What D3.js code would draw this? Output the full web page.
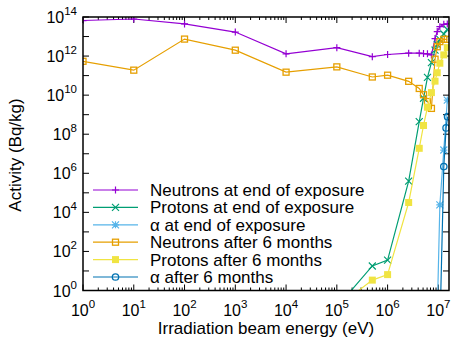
<!DOCTYPE html>
<html><head><meta charset="utf-8">
<script src="https://cdn.jsdelivr.net/npm/d3@7"></script>
<style>html,body{margin:0;padding:0;background:#fff;}svg{display:block;font-family:"Liberation Sans",Arial,sans-serif;}</style>
</head><body><svg id="c" width="452" height="344"></svg>
<script>
// ---- data (energy in eV, activity in Bq/kg) ----
const neutronsEndE = [1,10,100,1e3,1e4,1e5,5e5,1e6,2.6e6,4.2e6,5.1e6,6.1e6,7.3e6,8.6e6,9.5e6,1.07e7,1.28e7,1.5e7];
const neutronsEndV = [6.6e13,7.9e13,4.4e13,1.7e13,1.3e12,2.7e12,9.3e11,1.2e12,1.4e12,1.4e12,1.35e12,1.3e12,1.15e12,7.9e12,1.8e13,3.2e13,4.2e13,4.4e13];
const protonsEndE = [1e5,5e5,1e6,2.6e6,4.2e6,5.1e6,6.1e6,7.3e6,8.6e6,9.5e6,1.07e7,1.28e7,1.5e7];
const protonsEndV = [0.14,18,36,4.0e5,4.4e8,6.9e9,8.1e10,4.6e11,2.0e12,4.0e12,7.2e12,1.35e13,2.3e13];
const alphaEndE = [9.5e6,1.07e7,1.28e7,1.5e7];
const alphaEndV = [0.05,2.4e4,1.55e7,5.6e9];
const neutrons6mE = [1,10,100,1e3,1e4,1e5,5e5,1e6,2.6e6,4.2e6,5.1e6,6.1e6,7.3e6,8.6e6,9.5e6,1.07e7,1.28e7,1.5e7];
const neutrons6mV = [5.4e11,1.9e11,7.4e12,2.0e12,1.5e11,2.8e11,8.5e10,1.05e11,5.1e10,2.2e10,1.05e10,4.7e9,2.1e9,6.9e11,3.0e12,5.5e12,7.2e12,7.2e12];
const protons6mE = [1e5,5e5,1e6,2.6e6,4.2e6,5.1e6,6.1e6,7.3e6,8.6e6,9.5e6,1.07e7,1.28e7,1.5e7];
const protons6mV = [0.14,3.4,6.5,3.2e4,1.9e7,2.8e8,2.4e9,1.35e10,5.2e10,1.4e11,4.3e11,1.15e12,2.7e12];
const alpha6mE = [1.05e7,1.28e7,1.42e7,1.52e7];
const alpha6mV = [1e-3,2.2e6,2.1e8,7.9e8];

const seriesNames = ["Neutrons at end of exposure","Protons at end of exposure","\u03b1 at end of exposure","Neutrons after 6 months","Protons after 6 months","\u03b1 after 6 months"];
const seriesColors = ["#9400d3","#009e73","#56b4e9","#e69f00","#f0e442","#0072b2"];
const seriesMarkers = ["plus","cross","star","square","filledSquare","circle"];
const seriesE = [neutronsEndE,protonsEndE,alphaEndE,neutrons6mE,protons6mE,alpha6mE];
const seriesV = [neutronsEndV,protonsEndV,alphaEndV,neutrons6mV,protons6mV,alpha6mV];

const xTickExps = [0,1,2,3,4,5,6,7];
const yTickExps = [0,2,4,6,8,10,12,14];
const xTitle = "Irradiation beam energy (eV)";
const yTitle = "Activity (Bq/kg)";

// ---- layout ----
const L = 83, R = 449, T = 17, B = 290.5;
const svg = d3.select("#c");
const x = d3.scaleLog().domain([1, 1.62e7]).range([L, R]);
const y = d3.scaleLog().domain([1, 1e14]).range([B, T]);

svg.append("defs").append("clipPath").attr("id","clip")
  .append("rect").attr("x",L).attr("y",T).attr("width",R-L).attr("height",B-T);

// ticks
const tickG = svg.append("g").attr("stroke","#000").attr("stroke-width",1);
for (let e=0;e<=7;e++){
  const xv=x(Math.pow(10,e));
  tickG.append("line").attr("x1",xv).attr("x2",xv).attr("y1",B).attr("y2",B-6);
  tickG.append("line").attr("x1",xv).attr("x2",xv).attr("y1",T).attr("y2",T+6);
  for (let m=2;m<=9;m++){
    const v=m*Math.pow(10,e);
    if (v>1.62e7) break;
    const xm=x(v);
    tickG.append("line").attr("x1",xm).attr("x2",xm).attr("y1",B).attr("y2",B-3);
    tickG.append("line").attr("x1",xm).attr("x2",xm).attr("y1",T).attr("y2",T+3);
  }
}
for (let e=0;e<=14;e++){
  const yv=y(Math.pow(10,e));
  tickG.append("line").attr("x1",L).attr("x2",L+6).attr("y1",yv).attr("y2",yv);
  tickG.append("line").attr("x1",R).attr("x2",R-6).attr("y1",yv).attr("y2",yv);
}

// tick labels
function pow10Label(g, px, py, exp, anchor){
  const t=g.append("text").attr("x",px).attr("y",py).attr("text-anchor",anchor).attr("font-size",16).attr("fill","#000");
  t.append("tspan").text("10");
  t.append("tspan").attr("dy",-8).attr("font-size",11.5).text(String(exp));
}
const lab = svg.append("g");
xTickExps.forEach(e=>pow10Label(lab, x(Math.pow(10,e)), 316, e, "middle"));
yTickExps.forEach(e=>pow10Label(lab, 77, y(Math.pow(10,e))+6, e, "end"));

// axis titles
svg.append("text").attr("x",(L+R)/2).attr("y",334).attr("text-anchor","middle").attr("font-size",17).text(xTitle);
svg.append("text").attr("transform","translate(21,155) rotate(-90)").attr("text-anchor","middle").attr("font-size",17).text(yTitle);

// markers
function drawMarker(g, type, cx, cy, color){
  const s=3.5;
  if (type==="plus"){
    g.append("path").attr("d",`M${cx-s},${cy}H${cx+s}M${cx},${cy-s}V${cy+s}`).attr("stroke",color).attr("stroke-width",1.2).attr("fill","none");
  } else if (type==="cross"){
    g.append("path").attr("d",`M${cx-s},${cy-s}L${cx+s},${cy+s}M${cx-s},${cy+s}L${cx+s},${cy-s}`).attr("stroke",color).attr("stroke-width",1.2).attr("fill","none");
  } else if (type==="star"){
    g.append("path").attr("d",`M${cx-s},${cy-s}L${cx+s},${cy+s}M${cx-s},${cy+s}L${cx+s},${cy-s}M${cx-s},${cy}H${cx+s}M${cx},${cy-s}V${cy+s}`).attr("stroke",color).attr("stroke-width",1.2).attr("fill","none");
  } else if (type==="square"){
    g.append("rect").attr("x",cx-s+0.5).attr("y",cy-s+0.5).attr("width",2*s-1).attr("height",2*s-1).attr("stroke",color).attr("stroke-width",1.3).attr("fill","none");
  } else if (type==="filledSquare"){
    g.append("rect").attr("x",cx-s).attr("y",cy-s).attr("width",2*s).attr("height",2*s).attr("fill",color);
  } else if (type==="circle"){
    g.append("circle").attr("cx",cx).attr("cy",cy).attr("r",s-0.3).attr("stroke",color).attr("stroke-width",1.3).attr("fill","none");
  }
}

// series
const plotG = svg.append("g").attr("clip-path","url(#clip)");
const line = d3.line().x(d=>x(d[0])).y(d=>y(d[1]));
seriesNames.forEach((name,i)=>{
  const pts = seriesE[i].map((e,j)=>[e, seriesV[i][j]]);
  plotG.append("path").datum(pts).attr("d",line).attr("fill","none").attr("stroke",seriesColors[i]).attr("stroke-width",1.2);
  const mg = plotG.append("g");
  pts.forEach(p=>{
    if (p[1]>=1) drawMarker(mg, seriesMarkers[i], x(p[0]), y(p[1]), seriesColors[i]);
  });
});

// frame
svg.append("rect").attr("x",L).attr("y",T).attr("width",R-L).attr("height",B-T).attr("fill","none").attr("stroke","#000").attr("stroke-width",1.5);

// legend
const lg = svg.append("g");
seriesNames.forEach((name,i)=>{
  const ly = 190 + i*17.4;
  lg.append("line").attr("x1",93).attr("x2",138).attr("y1",ly).attr("y2",ly).attr("stroke",seriesColors[i]).attr("stroke-width",1.2);
  drawMarker(lg, seriesMarkers[i], 115.5, ly, seriesColors[i]);
  lg.append("text").attr("x",150).attr("y",ly+6).attr("font-size",17).attr("fill","#000").text(name);
});
</script></body></html>
